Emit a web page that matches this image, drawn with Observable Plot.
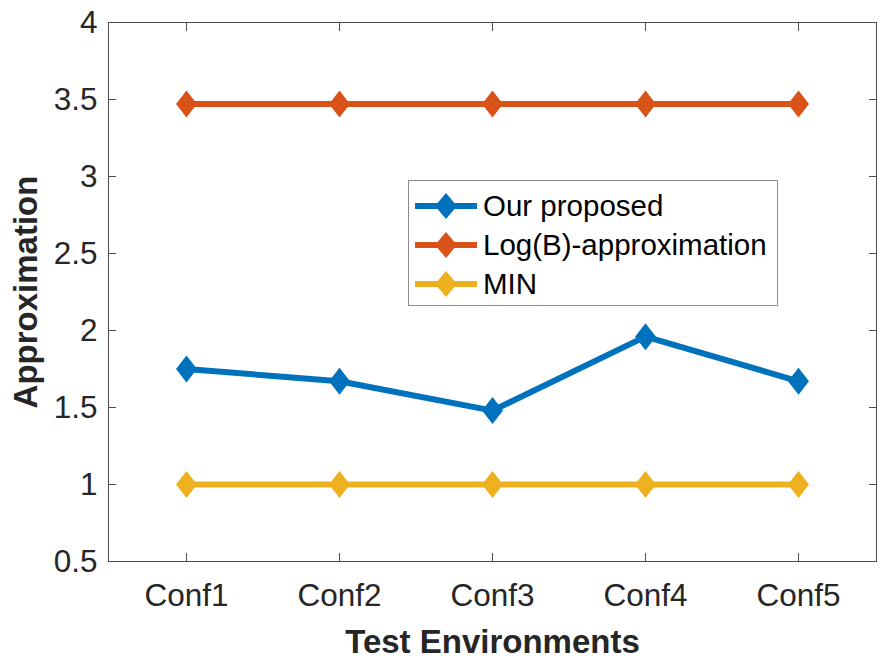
<!DOCTYPE html>
<html>
<head>
<meta charset="utf-8">
<script src="https://cdn.jsdelivr.net/npm/d3@7"></script>
<script src="https://cdn.jsdelivr.net/npm/@observablehq/plot@0.6"></script>
<style>
  html, body { margin: 0; padding: 0; background: #fff; }
  #wrap { position: relative; width: 880px; height: 661px; font-family: "Liberation Sans", Arial, sans-serif; }
  #legend { position: absolute; left: 408px; top: 180px; width: 368px; height: 124px; border: 1px solid #8c8c8c; background: #fff; box-sizing: content-box; }
  #legend .row { position: absolute; left: 0; height: 40px; display: flex; align-items: center; }
  #legend .row span { font-size: 29.5px; color: #000; margin-left: 2px; white-space: nowrap; }
</style>
</head>
<body>
<div id="wrap"></div>
<script>
const categories = ["Conf1", "Conf2", "Conf3", "Conf4", "Conf5"];
const ourProposed = [1.75, 1.67, 1.48, 1.96, 1.67];
const logBApprox = [3.47, 3.47, 3.47, 3.47, 3.47];
const minValues = [1, 1, 1, 1, 1];
const seriesNames = ["Our proposed", "Log(B)-approximation", "MIN"];
const seriesColors = ["#0072BD", "#D95319", "#EDB120"];
const yTicks = [0.5, 1, 1.5, 2, 2.5, 3, 3.5, 4];
const yTickLabels = ["0.5", "1", "1.5", "2", "2.5", "3", "3.5", "4"];
const xLabel = "Test Environments";
const yLabel = "Approximation";

const seriesValues = [ourProposed, logBApprox, minValues];
const rows = [];
seriesValues.forEach((vals, si) => {
  vals.forEach((v, i) => rows.push({series: seriesNames[si], cat: categories[i], value: v}));
});

const ringDiamond = {
  draw(ctx) {
    ctx.moveTo(0, -13.5); ctx.lineTo(10.5, 0); ctx.lineTo(0, 13.5); ctx.lineTo(-10.5, 0); ctx.closePath();
    ctx.moveTo(0, -3.5); ctx.lineTo(-1.5, 0); ctx.lineTo(0, 3.5); ctx.lineTo(1.5, 0); ctx.closePath();
  }
};

const tickColor = "#262626";
const plot = Plot.plot({
  width: 880,
  height: 661,
  marginLeft: 108,
  marginRight: 4,
  marginTop: 22,
  marginBottom: 100,
  style: {fontFamily: "'Liberation Sans', Arial, sans-serif", color: tickColor, background: "#fff", overflow: "visible"},
  x: {type: "point", domain: categories, padding: 0.5},
  y: {domain: [0.5, 4]},
  color: {domain: seriesNames, range: seriesColors},
  marks: [
    Plot.frame({stroke: "#4d4d4d"}),
    Plot.axisY(yTicks, {anchor: "left", tickSize: 8, dx: 8, tickPadding: 11, fontSize: 31.5, tickFormat: (d) => yTickLabels[yTicks.indexOf(d)], label: null, stroke: "#4d4d4d"}),
    Plot.axisY(yTicks, {anchor: "right", tickSize: 8, dx: -8, tickFormat: () => "", label: null, stroke: "#4d4d4d"}),
    Plot.axisX(categories, {anchor: "bottom", tickSize: 8, dy: -8, tickPadding: 22, fontSize: 31.5, label: null, stroke: "#4d4d4d"}),
    Plot.axisX(categories, {anchor: "top", tickSize: 8, dy: 8, tickFormat: () => "", label: null, stroke: "#4d4d4d"}),
    Plot.line(rows, {x: "cat", y: "value", z: "series", stroke: "series", strokeWidth: 6, strokeLinejoin: "miter"}),
    Plot.dot(rows, {x: "cat", y: "value", fill: "series", stroke: "none", symbol: ringDiamond}),
    Plot.text([xLabel], {frameAnchor: "bottom", text: d => d, dy: 91, lineAnchor: "bottom", textAnchor: "middle", fontSize: 33, fontWeight: "bold", fill: tickColor}),
    Plot.text([yLabel], {frameAnchor: "left", text: d => d, dx: -95, rotate: -90, lineAnchor: "top", textAnchor: "middle", fontSize: 33, fontWeight: "bold", fill: tickColor})
  ]
});

const wrap = document.getElementById("wrap");
wrap.appendChild(plot);

// Legend (overlaid inside the axes, as in the reference)
const legend = document.createElement("div");
legend.id = "legend";
const rowTops = [5, 44, 83];
seriesNames.forEach((name, i) => {
  const row = document.createElement("div");
  row.className = "row";
  row.style.top = rowTops[i] + "px";
  row.innerHTML = `<svg width="72" height="40" style="display:block">
      <line x1="6" x2="68" y1="20" y2="20" stroke="${seriesColors[i]}" stroke-width="6"/>
      <path d="M37,7 L48,20 L37,33 L26,20 Z" fill="${seriesColors[i]}"/>
    </svg><span>${name}</span>`;
  legend.appendChild(row);
});
wrap.appendChild(legend);
</script>
</body>
</html>
